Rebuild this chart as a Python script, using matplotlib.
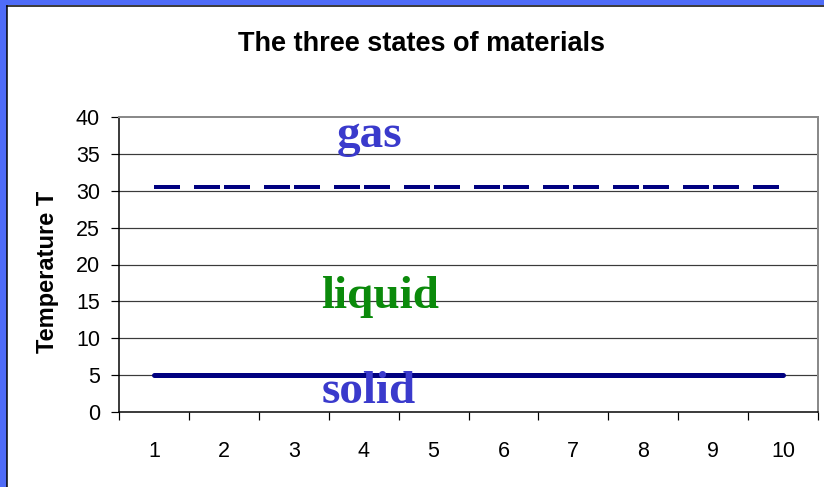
import matplotlib
matplotlib.use('Agg')
import matplotlib.pyplot as plt
from matplotlib.patches import Rectangle
from matplotlib.lines import Line2D

W, H, DPI = 824, 487, 100

# data
points = [1, 2, 3, 4, 5, 6, 7, 8, 9, 10]
gas_line = [30.5] * 10      # boiling level
solid_line = [5] * 10       # melting level
y_ticks = [0, 5, 10, 15, 20, 25, 30, 35, 40]
state_labels = ['gas', 'liquid', 'solid']
state_x = [4.09, 4.24, 4.07]
state_y = [35.9, 14.1, 1.2]
state_colors = ['#3a3acc', '#0b8a0b', '#3a3acc']

NAVY = '#000080'
plt.rcParams['lines.scale_dashes'] = False


def px(v):
    # pixels -> points
    return v * 72.0 / DPI


fig = plt.figure(figsize=(W / DPI, H / DPI), dpi=DPI)
fig.patch.set_facecolor('white')

# blue frame on the left and top
fig.add_artist(Rectangle((0, 0), 7 / W, 1, transform=fig.transFigure, color='#4f6cf8', lw=0))
fig.add_artist(Rectangle((0, 1 - 5 / H), 1, 5 / H, transform=fig.transFigure, color='#4f6cf8', lw=0))
fig.add_artist(Line2D([7.5 / W, 7.5 / W], [0, 1 - 5.5 / H], transform=fig.transFigure, color='black', lw=px(1.5)))
fig.add_artist(Line2D([7.5 / W, 1], [1 - 5.5 / H, 1 - 5.5 / H], transform=fig.transFigure, color='black', lw=px(1.5)))

ax = fig.add_axes([119 / W, (H - 412) / H, (818 - 119) / W, (412 - 117) / H])
ax.set_xlim(0.5, 10.5)
ax.set_ylim(0, 40)

for y in y_ticks[1:-1]:
    ax.axhline(y, color='#3a3a3a', lw=px(1.2), zorder=1)

# dash pattern restarts at every point, so draw segment by segment
for i in range(len(points) - 1):
    ax.plot(points[i:i + 2], gas_line[i:i + 2], color=NAVY, lw=px(4),
            dashes=(px(26), px(14)), dash_capstyle='butt', zorder=3)
ax.plot(points, solid_line, color=NAVY, lw=px(5), solid_capstyle='round', zorder=3)

for lab, x, y, c in zip(state_labels, state_x, state_y, state_colors):
    ax.text(x, y, lab, color=c, fontsize=34, fontweight='bold',
            family='Liberation Serif', ha='center', va='baseline', zorder=4)

for side in ['top', 'right']:
    ax.spines[side].set_color('#8a8a8a')
    ax.spines[side].set_linewidth(px(2))
for side in ['left', 'bottom']:
    ax.spines[side].set_color('black')
    ax.spines[side].set_linewidth(px(1.5))

ax.set_yticks(y_ticks)
ax.set_yticklabels([str(v) for v in y_ticks], family='Liberation Sans', fontsize=15.5)
ax.tick_params(axis='y', direction='out', length=px(8), width=px(1.2), pad=px(11))

# category axis: ticks between categories, labels at centres
ax.set_xticks([p + 0.5 for p in [0] + points])
ax.set_xticklabels([])
ax.set_xticks(points, minor=True)
ax.set_xticklabels([str(p) for p in points], minor=True, family='Liberation Sans', fontsize=15.5)
ax.tick_params(axis='x', which='major', direction='out', length=px(8), width=px(1.2))
ax.tick_params(axis='x', which='minor', length=0, pad=px(29))

fig.text(421 / W, 1 - 51 / H, 'The three states of materials', ha='center', va='baseline',
         family='Liberation Sans', fontweight='bold', fontsize=19.5)
fig.text(48 / W, 1 - 272 / H, 'Temperature T', rotation=90, ha='center', va='center',
         family='Liberation Sans', fontweight='bold', fontsize=17)

fig.savefig('out.png', dpi=DPI)
